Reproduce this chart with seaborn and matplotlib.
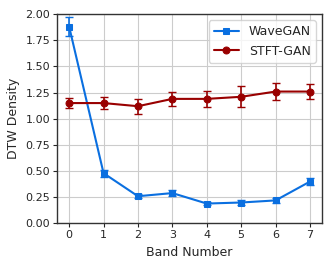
import matplotlib
matplotlib.use("Agg")
import matplotlib.pyplot as plt
import numpy as np
import pandas as pd
import seaborn as sns

# Values
bands = [0, 1, 2, 3, 4, 5, 6, 7]
wavegan_mean = [1.88, 0.48, 0.26, 0.29, 0.19, 0.20, 0.22, 0.40]
wavegan_err = [0.09, 0.035, 0.02, 0.025, 0.015, 0.02, 0.02, 0.03]
stft_mean = [1.15, 1.15, 1.12, 1.19, 1.19, 1.21, 1.26, 1.26]
stft_err = [0.05, 0.055, 0.07, 0.07, 0.08, 0.10, 0.08, 0.075]

blue = "#0a6fe0"
red = "#990000"

sns.set_style("whitegrid", {"axes.edgecolor": "#333333", "grid.color": "#cccccc",
                            "xtick.bottom": True, "ytick.left": True})
plt.rcParams['font.family'] = ['DejaVu Sans']

df = pd.DataFrame({"band": bands, "WaveGAN": wavegan_mean, "STFT-GAN": stft_mean})

fig, ax = plt.subplots(figsize=(3.32, 2.66), dpi=100)

sns.lineplot(data=df, x="band", y="WaveGAN", marker="s", markersize=5, color=blue,
             markeredgecolor=blue, linewidth=1.5, label="WaveGAN", ax=ax)
sns.lineplot(data=df, x="band", y="STFT-GAN", marker="o", markersize=5, color=red,
             markeredgecolor=red, linewidth=1.5, label="STFT-GAN", ax=ax)
ax.errorbar(bands, wavegan_mean, yerr=wavegan_err, fmt="none", ecolor=blue, capsize=3, elinewidth=1.2)
ax.errorbar(bands, stft_mean, yerr=stft_err, fmt="none", ecolor=red, capsize=3, elinewidth=1.2)

ax.set_ylim(0, 2.0)
ax.set_yticks(np.arange(0, 2.01, 0.25))
ax.set_xticks(bands)
ax.set_xlim(-0.35, 7.35)
ax.set_xlabel("Band Number", fontsize=9)
ax.set_ylabel("DTW Density", fontsize=9)
ax.tick_params(labelsize=8, length=3, width=0.8, pad=2)
for s in ax.spines.values():
    s.set_linewidth(1.0)
ax.legend(loc="upper right", fontsize=9, frameon=True, handlelength=2)

fig.subplots_adjust(left=0.172, right=0.97, top=0.947, bottom=0.16)
plt.savefig("out.png", dpi=100)
